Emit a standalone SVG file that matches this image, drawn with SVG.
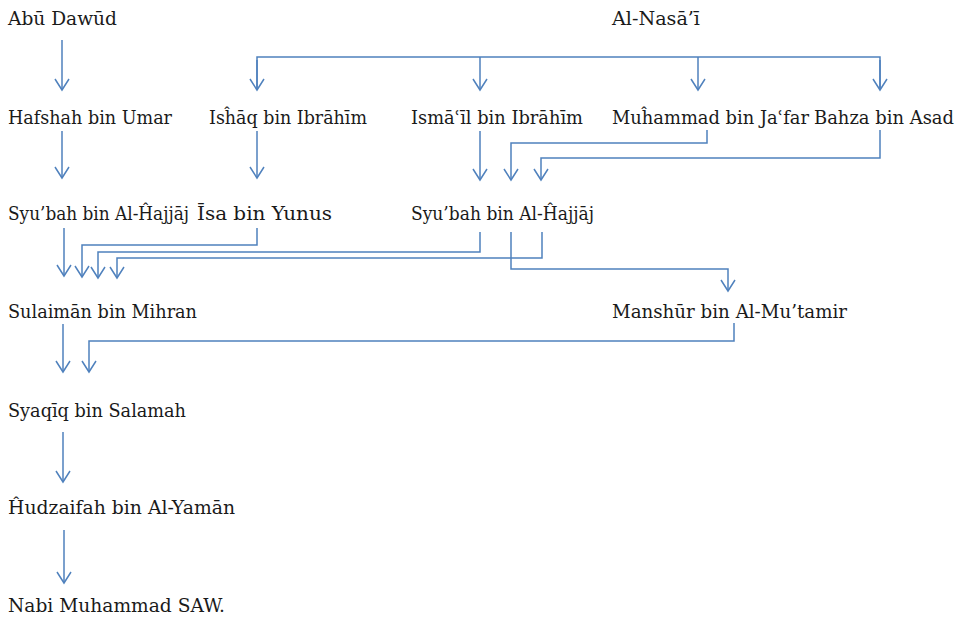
<svg xmlns="http://www.w3.org/2000/svg" width="963" height="617" viewBox="0 0 963 617">
<style>
  .t { font-family: 'DejaVu Serif', 'Liberation Serif', serif; font-size: 18.5px; fill: #1a1a1a; }
  .c { fill: none; stroke: #4f81bd; stroke-width: 1.5; }
  .a { marker-end: url(#arr); }
</style>
<defs>
  <marker id="arr" markerUnits="userSpaceOnUse" orient="auto" refX="0" refY="0" markerWidth="20" markerHeight="20" overflow="visible">
    <path d="M-11,-7 L0,0 L-11,7" fill="none" stroke="#4f81bd" stroke-width="1.5"/>
  </marker>
</defs>
<rect width="963" height="617" fill="#ffffff"/>
<g id="connectors">
  <path class="c a" d="M62,40 V90"/>
  <path class="c" d="M257,90 V57 H880 V90"/>
  <path class="c a" d="M257,60 V90"/>
  <path class="c a" d="M480,57 V90"/>
  <path class="c a" d="M698,57 V90"/>
  <path class="c a" d="M880,60 V90"/>
  <path class="c a" d="M62,131 V178"/>
  <path class="c a" d="M257,131 V178"/>
  <path class="c a" d="M480,131 V180"/>
  <path class="c a" d="M707,130 V143 H511 V180"/>
  <path class="c a" d="M880,130 V158 H541 V180"/>
  <path class="c a" d="M64,228 V276"/>
  <path class="c a" d="M257,228 V245 H82 V277"/>
  <path class="c a" d="M480,232 V252 H98 V278"/>
  <path class="c a" d="M542,232 V258 H117 V278"/>
  <path class="c a" d="M511,232 V269 H728 V291"/>
  <path class="c a" d="M63,324 V372"/>
  <path class="c a" d="M734,323 V341 H89 V372"/>
  <path class="c a" d="M63,432 V482"/>
  <path class="c a" d="M64,530 V583"/>
</g>
<g id="abu-dawud"><text class="t" x="8" y="25" textLength="109" lengthAdjust="spacingAndGlyphs">Abū Dawūd</text></g>
<g id="al-nasai"><text class="t" x="612" y="25" textLength="88" lengthAdjust="spacingAndGlyphs">Al-Nasā’ī</text></g>
<g id="hafshah"><text class="t" x="8" y="124" textLength="164" lengthAdjust="spacingAndGlyphs">Hafshah bin Umar</text></g>
<g id="ishaq"><text class="t" x="209" y="124" textLength="158" lengthAdjust="spacingAndGlyphs">Isĥāq bin Ibrāhīm</text></g>
<g id="ismail"><text class="t" x="411" y="124" textLength="172" lengthAdjust="spacingAndGlyphs">Ismāʿīl bin Ibrāhīm</text></g>
<g id="muhammad-jafar"><text class="t" x="612" y="124" textLength="197" lengthAdjust="spacingAndGlyphs">Muĥammad bin Jaʿfar</text></g>
<g id="bahza"><text class="t" x="814" y="124" textLength="140" lengthAdjust="spacingAndGlyphs">Bahza bin Asad</text></g>
<g id="syubah-1"><text class="t" x="8" y="220" textLength="181" lengthAdjust="spacingAndGlyphs">Syu’bah bin Al-Ĥajjāj</text></g>
<g id="isa"><text class="t" x="197" y="220" textLength="135" lengthAdjust="spacingAndGlyphs">Īsa bin Yunus</text></g>
<g id="syubah-2"><text class="t" x="411" y="220" textLength="183" lengthAdjust="spacingAndGlyphs">Syu’bah bin Al-Ĥajjāj</text></g>
<g id="sulaiman"><text class="t" x="8" y="318" textLength="189" lengthAdjust="spacingAndGlyphs">Sulaimān bin Mihran</text></g>
<g id="manshur"><text class="t" x="612" y="318" textLength="235" lengthAdjust="spacingAndGlyphs">Manshūr bin Al-Mu’tamir</text></g>
<g id="syaqiq"><text class="t" x="8" y="417" textLength="178" lengthAdjust="spacingAndGlyphs">Syaqīq bin Salamah</text></g>
<g id="hudzaifah"><text class="t" x="8" y="514" textLength="227" lengthAdjust="spacingAndGlyphs">Ĥudzaifah bin Al-Yamān</text></g>
<g id="nabi"><text class="t" x="8" y="612" textLength="217" lengthAdjust="spacingAndGlyphs">Nabi Muhammad SAW.</text></g>
</svg>
